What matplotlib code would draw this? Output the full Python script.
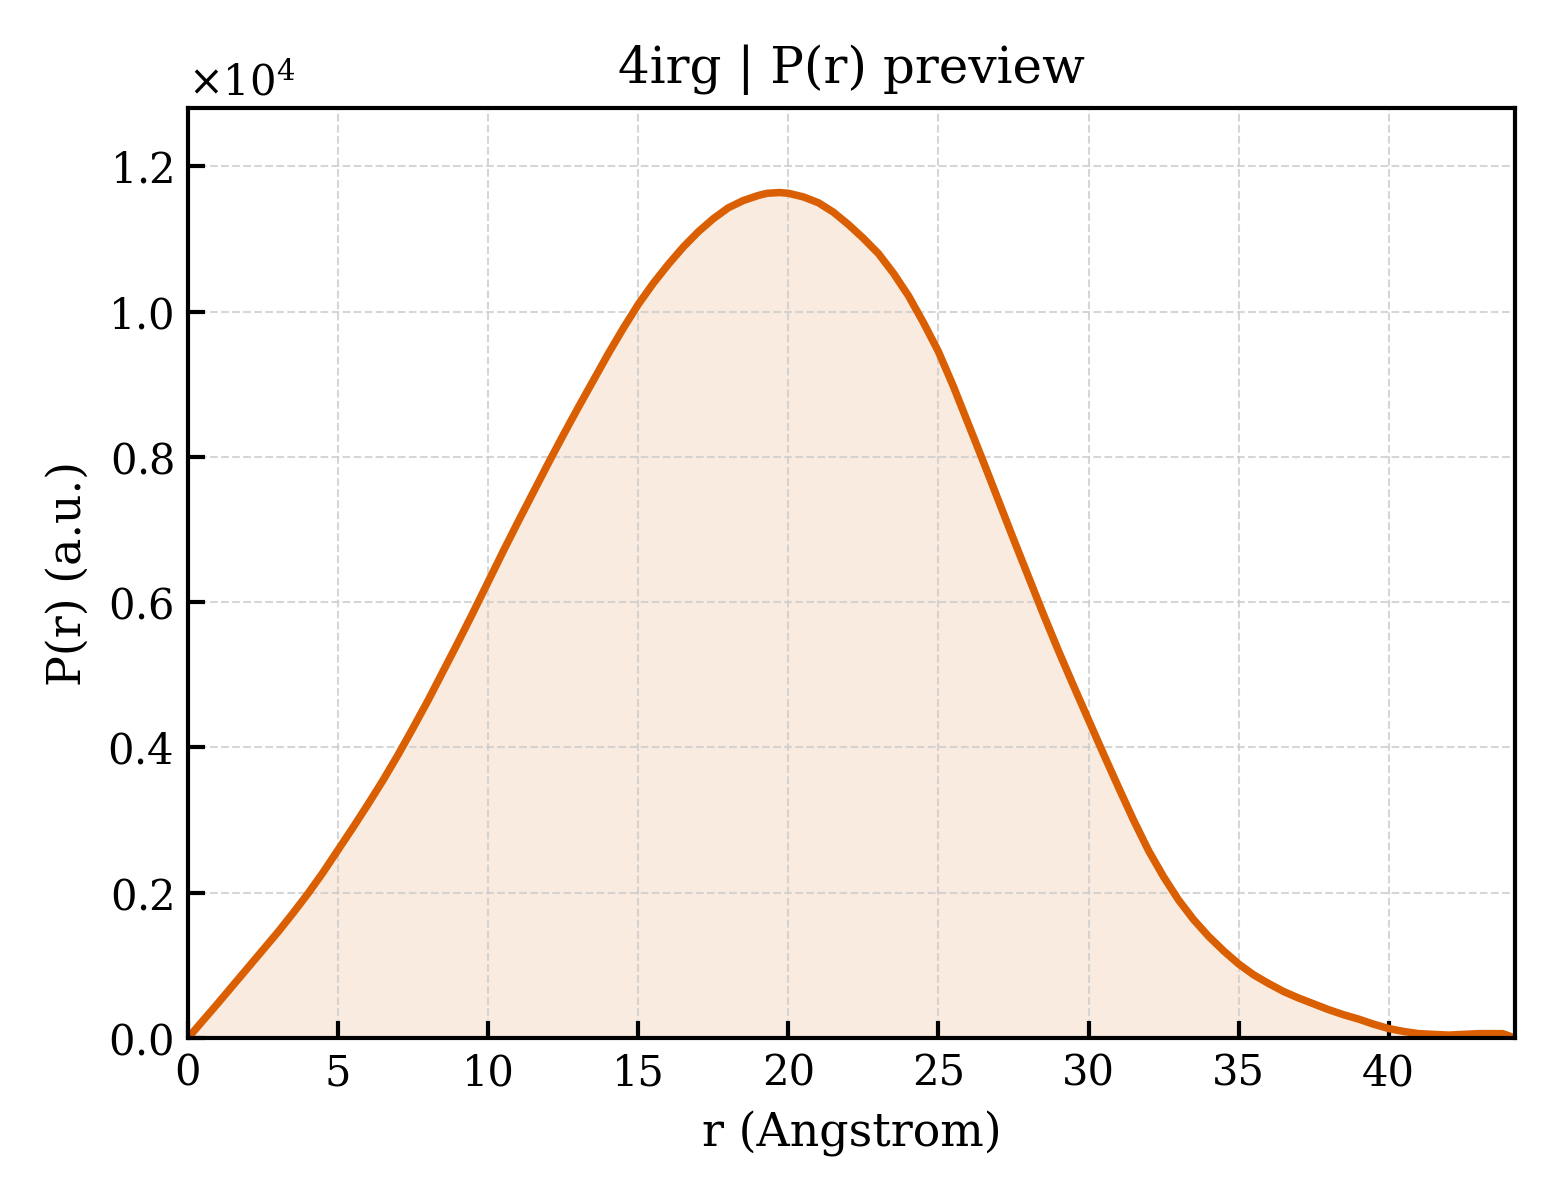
import numpy as np
import matplotlib
matplotlib.use('Agg')
import matplotlib.pyplot as plt
from matplotlib.ticker import ScalarFormatter

# P(r) values (in units of 1e4)
r = [0, 1, 2, 3, 3.5, 4, 4.5, 5, 5.5, 6, 6.5, 7, 7.5, 8, 8.5, 9, 9.5, 10,
     10.5, 11, 11.5, 12, 12.5, 13, 13.5, 14, 14.5, 15, 15.5, 16, 16.5, 17,
     17.5, 18, 18.5, 19, 19.3, 19.7, 20, 20.5, 21, 21.5, 22, 22.5, 23, 23.5,
     24, 24.5, 25, 25.5, 26, 26.5, 27, 27.5, 28, 28.5, 29, 29.5, 30, 30.5,
     31, 31.5, 32, 32.5, 33, 33.5, 34, 34.5, 35, 35.5, 36, 36.5, 37, 37.5,
     38, 38.5, 39, 39.5, 40, 40.5, 41, 42, 43, 43.8, 44.2]
pr = [0.0, 0.048, 0.097, 0.146, 0.172, 0.199, 0.228, 0.259, 0.29, 0.322,
      0.355, 0.39, 0.427, 0.465, 0.505, 0.545, 0.586, 0.628,
      0.67, 0.711, 0.751, 0.791, 0.83, 0.868, 0.905, 0.942, 0.977, 1.01,
      1.039, 1.065, 1.089, 1.11, 1.128, 1.143, 1.153, 1.16, 1.163, 1.164,
      1.163, 1.158, 1.15, 1.137, 1.12, 1.101, 1.08, 1.053, 1.022, 0.985,
      0.945, 0.897, 0.845, 0.793, 0.74, 0.687, 0.635, 0.583, 0.533, 0.485,
      0.438, 0.391, 0.345, 0.30, 0.258, 0.222, 0.19, 0.163, 0.14, 0.12,
      0.102, 0.087, 0.075, 0.064, 0.055, 0.047, 0.039, 0.032, 0.026, 0.019,
      0.013, 0.009, 0.006, 0.004, 0.006, 0.006, 0.0]

r = np.array(r)
pr = np.array(pr) * 1e4

plt.rcParams['font.family'] = ['DejaVu Serif']
plt.rcParams['mathtext.fontset'] = 'dejavuserif'

fig, ax = plt.subplots(figsize=(5.2, 4), dpi=300)
fig.subplots_adjust(left=0.1205, right=0.971, bottom=0.135, top=0.91)

col = '#d95f02'
ax.fill_between(r, pr, 0, color=col, alpha=0.12, lw=0)
ax.plot(r, pr, color=col, lw=1.8)

ax.set_xlim(0, r.max())
ax.set_ylim(0, pr.max() * 1.1)
ax.set_xlabel('r (Angstrom)', fontsize=11)
ax.set_ylabel('P(r) (a.u.)', fontsize=11)
ax.set_title('4irg | P(r) preview', fontsize=12)

fmt = ScalarFormatter(useMathText=True)
fmt.set_powerlimits((0, 0))
ax.yaxis.set_major_formatter(fmt)
ax.yaxis.get_offset_text().set_fontsize(10)

ax.tick_params(direction='in', labelsize=10, length=4, width=1)
ax.grid(True, ls='--', lw=0.5, color='#cccccc', alpha=0.8)
for s in ax.spines.values():
    s.set_linewidth(1.0)

plt.savefig('out.png', dpi=300)
